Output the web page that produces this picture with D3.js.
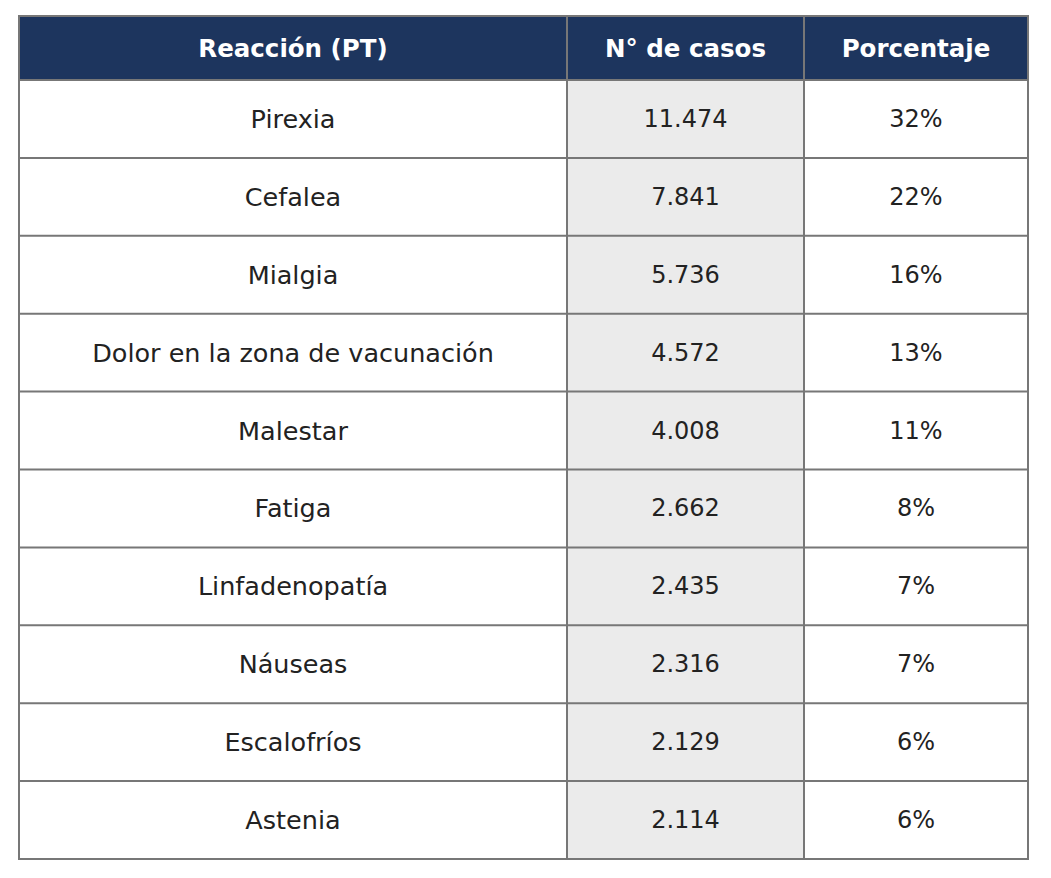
<!DOCTYPE html>
<html>
<head>
<meta charset="utf-8">
<script src="https://cdn.jsdelivr.net/npm/d3@7"></script>
<style>
  html, body { margin: 0; padding: 0; background: #fff; }
  svg { display: block; }
</style>
</head>
<body>
<svg id="chart" width="1051" height="878"></svg>
<script>
const headers = ['Reacción (PT)', 'N° de casos', 'Porcentaje'];
const reactions = ['Pirexia', 'Cefalea', 'Mialgia', 'Dolor en la zona de vacunación', 'Malestar',
  'Fatiga', 'Linfadenopatía', 'Náuseas', 'Escalofríos', 'Astenia'];
const cases = ['11.474', '7.841', '5.736', '4.572', '4.008', '2.662', '2.435', '2.316', '2.129', '2.114'];
const percentages = ['32%', '22%', '16%', '13%', '11%', '8%', '7%', '7%', '6%', '6%'];

const svg = d3.select('#chart');
const tblLeft = 19, tblRight = 1028, tblTop = 16, headerH = 64, tblBottom = 859;
const colEdges = [tblLeft, 567, 804, tblRight];
const font = 'DejaVu Sans, sans-serif';

// rows
const y = d3.scaleBand().domain(reactions).range([tblTop + headerH, tblBottom]);

const columns = [reactions, cases, percentages];
const colFill = ['#ffffff', '#ebebeb', '#ffffff'];
const colSize = [25.5, 24, 24];

// header
svg.append('rect')
  .attr('x', tblLeft).attr('y', tblTop)
  .attr('width', tblRight - tblLeft).attr('height', headerH)
  .attr('fill', '#1d355e');

svg.selectAll('.head')
  .data(headers)
  .join('text')
  .attr('class', 'head')
  .attr('x', (d, i) => (colEdges[i] + colEdges[i + 1]) / 2)
  .attr('y', tblTop + headerH / 2)
  .attr('text-anchor', 'middle')
  .attr('dominant-baseline', 'central')
  .attr('font-family', font)
  .attr('font-weight', 'bold')
  .attr('font-size', 24.5)
  .attr('fill', '#fff')
  .text(d => d);

// body cells
columns.forEach((col, i) => {
  const g = svg.append('g');
  g.selectAll('rect')
    .data(col)
    .join('rect')
    .attr('x', colEdges[i])
    .attr('y', (d, j) => y(reactions[j]))
    .attr('width', colEdges[i + 1] - colEdges[i])
    .attr('height', y.bandwidth())
    .attr('fill', colFill[i]);

  g.selectAll('text')
    .data(col)
    .join('text')
    .attr('x', (colEdges[i] + colEdges[i + 1]) / 2)
    .attr('y', (d, j) => y(reactions[j]) + y.bandwidth() / 2)
    .attr('text-anchor', 'middle')
    .attr('dominant-baseline', 'central')
    .attr('font-family', font)
    .attr('font-size', colSize[i])
    .attr('fill', '#222')
    .text(d => d);
});

// grid lines
const lineColor = '#777';
svg.selectAll('.hline')
  .data(reactions.slice(1))
  .join('line')
  .attr('x1', tblLeft).attr('x2', tblRight)
  .attr('y1', d => y(d)).attr('y2', d => y(d))
  .attr('stroke', lineColor).attr('stroke-width', 2);

svg.append('line')
  .attr('x1', tblLeft).attr('x2', tblRight)
  .attr('y1', tblTop + headerH).attr('y2', tblTop + headerH)
  .attr('stroke', lineColor).attr('stroke-width', 2);

svg.selectAll('.vline')
  .data(colEdges.slice(1, -1))
  .join('line')
  .attr('x1', d => d).attr('x2', d => d)
  .attr('y1', tblTop).attr('y2', tblBottom)
  .attr('stroke', lineColor).attr('stroke-width', 2);

svg.append('rect')
  .attr('x', tblLeft).attr('y', tblTop)
  .attr('width', tblRight - tblLeft).attr('height', tblBottom - tblTop)
  .attr('fill', 'none')
  .attr('stroke', lineColor).attr('stroke-width', 2);
</script>
</body>
</html>
